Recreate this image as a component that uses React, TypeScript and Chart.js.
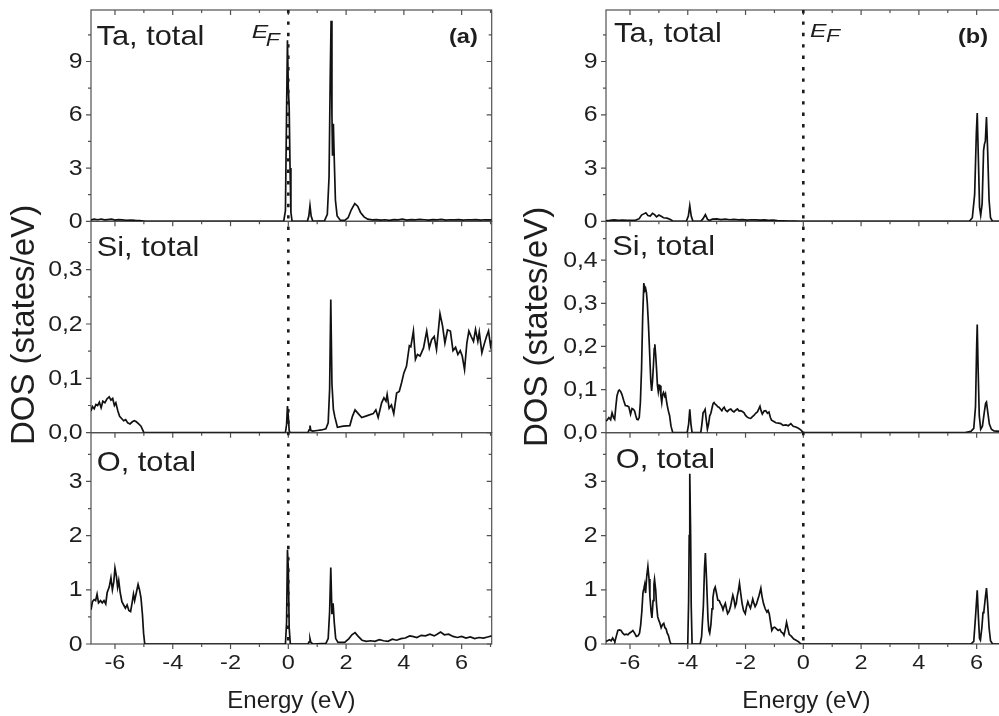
import React, { useEffect, useRef } from "react";
import { Chart, registerables } from "chart.js";

Chart.register(...registerables);

const FONT = "'Liberation Sans', Arial, Helvetica, sans-serif";

// ---- axis settings ----
const X_MIN = -6.83;
const X_MAX = 7.04;
const X_STEP = 2;
const X_TITLE = "Energy (eV)";
const Y_TITLE = "DOS (states/eV)";

const TA_STEP = 3;
const SI_STEP = 0.1;
const O_STEP = 1;

const TA_MAX_A = 11.9;
const SI_MAX_A = 0.389;
const O_MAX_A = 3.9;
const TA_MAX_B = 11.9;
const SI_MAX_B = 0.49;
const O_MAX_B = 3.9;

const PANEL_NAMES = ["Ta, total", "Si, total", "O, total"];
const LETTERS = ["(a)", "(b)"];

// ---- series: [energy (eV), DOS] ----
const TA_A: [number, number][] = [
  [-6.83, 0.08], [-6.72, 0.12], [-6.6, 0.09], [-6.48, 0.13], [-6.36, 0.08], [-6.25, 0.1], [-6.12, 0.12],
  [-6.0, 0.07], [-5.88, 0.1], [-5.75, 0.08], [-5.6, 0.06], [-5.45, 0.07], [-5.3, 0.05], [-5.15, 0.04],
  [-5.02, 0.02], [-4.95, 0], [-0.16, 0], [-0.1, 0.6], [-0.06, 6.2], [-0.03, 10.2], [0.0, 7.5], [0.03, 6.4],
  [0.06, 3.0], [0.09, 0.5], [0.13, 0], [0.66, 0], [0.71, 0.3], [0.75, 0.88], [0.79, 0.3], [0.85, 0],
  [1.25, 0.03], [1.35, 0.4], [1.41, 2.5], [1.45, 8], [1.48, 11.3], [1.51, 6], [1.53, 3.7], [1.56, 5.5],
  [1.59, 3.5], [1.63, 1.2], [1.69, 0.3], [1.8, 0.06], [1.95, 0.05], [2.07, 0.2], [2.18, 0.65], [2.3, 1.0],
  [2.4, 0.85], [2.5, 0.5], [2.62, 0.25], [2.75, 0.12], [2.9, 0.08], [3.05, 0.1], [3.2, 0.07], [3.35, 0.09],
  [3.5, 0.06], [3.65, 0.1], [3.8, 0.08], [3.95, 0.12], [4.1, 0.07], [4.25, 0.1], [4.4, 0.08], [4.55, 0.11],
  [4.7, 0.09], [4.85, 0.07], [5.0, 0.1], [5.15, 0.08], [5.3, 0.11], [5.45, 0.07], [5.6, 0.09], [5.75, 0.08],
  [5.9, 0.1], [6.05, 0.07], [6.2, 0.09], [6.35, 0.08], [6.5, 0.1], [6.65, 0.07], [6.8, 0.09], [6.95, 0.08],
  [7.04, 0.08],
];

const SI_A: [number, number][] = [
  [-6.83, 0.04], [-6.78, 0.048], [-6.72, 0.044], [-6.66, 0.052], [-6.6, 0.05], [-6.54, 0.056], [-6.48, 0.046],
  [-6.42, 0.058], [-6.35, 0.055], [-6.28, 0.062], [-6.2, 0.066], [-6.14, 0.06], [-6.08, 0.063], [-6.02, 0.05],
  [-5.97, 0.055], [-5.9, 0.04], [-5.84, 0.03], [-5.77, 0.026], [-5.7, 0.022], [-5.63, 0.024], [-5.56, 0.018],
  [-5.48, 0.016], [-5.4, 0.02], [-5.33, 0.022], [-5.26, 0.02], [-5.18, 0.016], [-5.1, 0.012], [-5.05, 0.006],
  [-5.0, 0], [-0.1, 0], [-0.06, 0.015], [-0.03, 0.049], [0.0, 0.03], [0.03, 0.004], [0.06, 0], [0.68, 0],
  [0.72, 0.005], [0.75, 0.013], [0.78, 0.004], [0.85, 0.003], [1.0, 0.004], [1.15, 0.005], [1.3, 0.007],
  [1.38, 0.018], [1.43, 0.08], [1.47, 0.245], [1.51, 0.09], [1.56, 0.043], [1.61, 0.029], [1.7, 0.01],
  [1.9, 0.012], [2.13, 0.013], [2.22, 0.03], [2.31, 0.042], [2.42, 0.035], [2.54, 0.028], [2.71, 0.031],
  [2.94, 0.035], [3.03, 0.042], [3.11, 0.028], [3.23, 0.055], [3.31, 0.064], [3.38, 0.058], [3.42, 0.07],
  [3.49, 0.045], [3.57, 0.051], [3.65, 0.035], [3.75, 0.073], [3.84, 0.076], [3.92, 0.092], [4.0, 0.11],
  [4.09, 0.122], [4.19, 0.16], [4.24, 0.158], [4.33, 0.187], [4.4, 0.135], [4.47, 0.144], [4.56, 0.141],
  [4.68, 0.156], [4.79, 0.187], [4.88, 0.156], [4.96, 0.171], [5.05, 0.177], [5.13, 0.153], [5.25, 0.219],
  [5.34, 0.196], [5.42, 0.165], [5.51, 0.189], [5.61, 0.187], [5.7, 0.151], [5.79, 0.157], [5.87, 0.144],
  [5.95, 0.151], [6.02, 0.141], [6.1, 0.116], [6.18, 0.165], [6.25, 0.187], [6.33, 0.177], [6.41, 0.168],
  [6.48, 0.19], [6.56, 0.168], [6.61, 0.185], [6.7, 0.147], [6.78, 0.163], [6.86, 0.177], [6.93, 0.187],
  [7.0, 0.16], [7.04, 0.17],
];

const O_A: [number, number][] = [
  [-6.83, 0.63], [-6.78, 0.78], [-6.72, 0.82], [-6.67, 0.8], [-6.62, 0.92], [-6.57, 0.76], [-6.5, 0.8],
  [-6.44, 0.76], [-6.38, 0.8], [-6.32, 0.74], [-6.27, 0.95], [-6.2, 1.05], [-6.14, 1.22], [-6.09, 1.0],
  [-6.04, 1.15], [-6.0, 1.4], [-5.95, 1.25], [-5.91, 1.05], [-5.87, 1.17], [-5.82, 0.95], [-5.76, 0.78],
  [-5.7, 0.72], [-5.64, 0.66], [-5.58, 0.72], [-5.52, 0.62], [-5.46, 0.6], [-5.41, 0.75], [-5.36, 0.92],
  [-5.32, 0.8], [-5.26, 0.95], [-5.2, 1.1], [-5.15, 1.0], [-5.1, 0.85], [-5.05, 0.55], [-5.01, 0.2],
  [-4.97, 0], [-0.1, 0], [-0.06, 0.4], [-0.03, 1.74], [0.0, 1.4], [0.03, 0.3], [0.07, 0], [0.68, 0],
  [0.72, 0.04], [0.75, 0.1], [0.78, 0.03], [0.85, 0], [1.3, 0.01], [1.38, 0.1], [1.43, 0.6], [1.47, 1.41],
  [1.51, 0.55], [1.55, 0.75], [1.59, 0.4], [1.64, 0.1], [1.72, 0.03], [1.95, 0.03], [2.1, 0.1], [2.2, 0.17],
  [2.31, 0.21], [2.42, 0.14], [2.55, 0.07], [2.7, 0.05], [2.85, 0.06], [3.0, 0.05], [3.15, 0.08], [3.3, 0.06],
  [3.45, 0.05], [3.6, 0.09], [3.75, 0.07], [3.9, 0.1], [4.05, 0.11], [4.2, 0.15], [4.3, 0.14], [4.45, 0.12],
  [4.6, 0.16], [4.75, 0.15], [4.9, 0.18], [5.05, 0.15], [5.15, 0.18], [5.27, 0.22], [5.4, 0.17], [5.55, 0.18],
  [5.7, 0.14], [5.85, 0.12], [6.0, 0.14], [6.15, 0.11], [6.3, 0.13], [6.45, 0.1], [6.6, 0.12], [6.75, 0.11],
  [6.9, 0.13], [7.04, 0.15],
];

const TA_B: [number, number][] = [
  [-6.83, 0.03], [-6.7, 0.05], [-6.55, 0.08], [-6.4, 0.06], [-6.25, 0.07], [-6.1, 0.06], [-5.95, 0.05],
  [-5.8, 0.07], [-5.68, 0.15], [-5.6, 0.35], [-5.52, 0.42], [-5.45, 0.48], [-5.38, 0.33], [-5.3, 0.3],
  [-5.22, 0.45], [-5.15, 0.38], [-5.08, 0.25], [-5.0, 0.35], [-4.92, 0.28], [-4.84, 0.2], [-4.72, 0.18],
  [-4.6, 0.1], [-4.52, 0.02], [-4.45, 0], [-4.05, 0], [-3.98, 0.3], [-3.93, 0.88], [-3.88, 0.3], [-3.82, 0],
  [-3.55, 0], [-3.47, 0.15], [-3.39, 0.38], [-3.32, 0.12], [-3.25, 0.05], [-3.15, 0.12], [-3.0, 0.14],
  [-2.85, 0.1], [-2.7, 0.12], [-2.55, 0.09], [-2.4, 0.11], [-2.25, 0.08], [-2.1, 0.1], [-1.95, 0.07],
  [-1.8, 0.09], [-1.65, 0.08], [-1.5, 0.07], [-1.35, 0.08], [-1.2, 0.06], [-1.05, 0.07], [-0.9, 0.04],
  [-0.7, 0.03], [-0.5, 0.02], [-0.3, 0.01], [-0.1, 0], [5.75, 0], [5.85, 0.2], [5.93, 1.5], [5.99, 5.0],
  [6.02, 6.1], [6.06, 3.5], [6.1, 0.8], [6.14, 0.35], [6.19, 1.0], [6.24, 4.0], [6.27, 4.35], [6.3, 4.5],
  [6.34, 5.87], [6.38, 4.0], [6.43, 1.2], [6.48, 0.2], [6.55, 0], [7.04, 0],
];

const SI_B: [number, number][] = [
  [-6.83, 0.027], [-6.78, 0.03], [-6.73, 0.035], [-6.67, 0.03], [-6.62, 0.046], [-6.57, 0.035], [-6.53, 0.031],
  [-6.49, 0.06], [-6.45, 0.085], [-6.4, 0.097], [-6.37, 0.099], [-6.32, 0.095], [-6.28, 0.089], [-6.22, 0.075],
  [-6.16, 0.063], [-6.1, 0.062], [-6.04, 0.06], [-5.98, 0.043], [-5.93, 0.056], [-5.88, 0.054], [-5.84, 0.05],
  [-5.8, 0.04], [-5.76, 0.031], [-5.72, 0.03], [-5.68, 0.035], [-5.64, 0.07], [-5.6, 0.147], [-5.56, 0.27],
  [-5.52, 0.347], [-5.49, 0.33], [-5.46, 0.335], [-5.43, 0.325], [-5.4, 0.3], [-5.36, 0.25], [-5.32, 0.186],
  [-5.28, 0.12], [-5.25, 0.097], [-5.22, 0.12], [-5.19, 0.154], [-5.16, 0.195], [-5.14, 0.205], [-5.11, 0.18],
  [-5.08, 0.147], [-5.05, 0.11], [-5.02, 0.095], [-4.99, 0.11], [-4.96, 0.109], [-4.93, 0.085], [-4.9, 0.07],
  [-4.87, 0.088], [-4.84, 0.093], [-4.8, 0.085], [-4.77, 0.09], [-4.74, 0.075], [-4.71, 0.063], [-4.67, 0.05],
  [-4.63, 0.04], [-4.58, 0.015], [-4.52, 0], [-4.02, 0], [-3.97, 0.02], [-3.93, 0.054], [-3.89, 0.02],
  [-3.85, 0], [-3.55, 0], [-3.51, 0.02], [-3.47, 0.046], [-3.43, 0.05], [-3.4, 0.054], [-3.36, 0.03],
  [-3.32, 0.008], [-3.28, 0.02], [-3.24, 0.039], [-3.2, 0.045], [-3.15, 0.06], [-3.12, 0.068], [-3.09, 0.07],
  [-3.05, 0.066], [-3.01, 0.064], [-2.96, 0.06], [-2.92, 0.059], [-2.87, 0.055], [-2.82, 0.051], [-2.78, 0.056],
  [-2.74, 0.059], [-2.69, 0.052], [-2.63, 0.049], [-2.57, 0.053], [-2.51, 0.055], [-2.45, 0.05], [-2.4, 0.048],
  [-2.34, 0.052], [-2.28, 0.055], [-2.22, 0.05], [-2.17, 0.051], [-2.11, 0.049], [-2.05, 0.046], [-2.0, 0.04],
  [-1.94, 0.036], [-1.88, 0.034], [-1.82, 0.033], [-1.76, 0.037], [-1.71, 0.04], [-1.65, 0.045], [-1.59, 0.048],
  [-1.54, 0.055], [-1.5, 0.061], [-1.46, 0.05], [-1.42, 0.043], [-1.36, 0.05], [-1.3, 0.051], [-1.24, 0.045],
  [-1.19, 0.048], [-1.14, 0.035], [-1.1, 0.029], [-1.02, 0.026], [-0.95, 0.023], [-0.86, 0.022], [-0.78, 0.021],
  [-0.7, 0.017], [-0.6, 0.018], [-0.52, 0.016], [-0.43, 0.021], [-0.35, 0.015], [-0.26, 0.013], [-0.17, 0.01],
  [-0.08, 0.006], [0, 0], [5.6, 0], [5.8, 0.003], [5.9, 0.01], [5.96, 0.06], [6.0, 0.2], [6.02, 0.251],
  [6.05, 0.15], [6.09, 0.04], [6.14, 0.008], [6.2, 0.015], [6.27, 0.05], [6.31, 0.068], [6.34, 0.071],
  [6.38, 0.05], [6.44, 0.02], [6.51, 0.008], [6.6, 0.004], [6.8, 0.003], [7.04, 0.003],
];

const O_B: [number, number][] = [
  [-6.85, 0.04], [-6.78, 0.06], [-6.71, 0.08], [-6.65, 0.06], [-6.6, 0.11], [-6.55, 0.06], [-6.52, 0.05],
  [-6.47, 0.15], [-6.42, 0.25], [-6.36, 0.26], [-6.31, 0.25], [-6.25, 0.2], [-6.19, 0.17], [-6.13, 0.18],
  [-6.07, 0.17], [-6.02, 0.2], [-5.96, 0.22], [-5.9, 0.25], [-5.84, 0.2], [-5.78, 0.14], [-5.72, 0.15],
  [-5.67, 0.2], [-5.63, 0.35], [-5.59, 0.6], [-5.55, 0.95], [-5.52, 1.02], [-5.49, 1.1], [-5.46, 0.94],
  [-5.42, 1.25], [-5.38, 1.43], [-5.34, 1.2], [-5.31, 0.88], [-5.27, 0.6], [-5.24, 0.48], [-5.2, 0.8],
  [-5.17, 1.1], [-5.15, 1.19], [-5.11, 1.0], [-5.08, 0.72], [-5.04, 0.5], [-5.01, 0.45], [-4.96, 0.38],
  [-4.92, 0.3], [-4.87, 0.36], [-4.83, 0.38], [-4.79, 0.3], [-4.75, 0.28], [-4.71, 0.2], [-4.67, 0.16],
  [-4.62, 0.05], [-4.58, 0], [-4.0, 0], [-3.97, 0.8], [-3.95, 2.0], [-3.93, 3.14], [-3.9, 2.0], [-3.88, 0.7],
  [-3.85, 0], [-3.57, 0], [-3.52, 0.14], [-3.46, 0.7], [-3.42, 1.4], [-3.39, 1.68], [-3.35, 1.2], [-3.3, 0.46],
  [-3.27, 0.25], [-3.24, 0.2], [-3.2, 0.35], [-3.16, 0.65], [-3.13, 0.85], [-3.09, 1.0], [-3.05, 1.05],
  [-3.01, 0.95], [-2.96, 0.81], [-2.91, 0.8], [-2.87, 0.75], [-2.82, 0.7], [-2.78, 0.63], [-2.74, 0.7],
  [-2.7, 0.75], [-2.66, 0.65], [-2.62, 0.56], [-2.57, 0.6], [-2.52, 0.69], [-2.48, 0.8], [-2.44, 0.9],
  [-2.4, 0.82], [-2.36, 0.69], [-2.32, 0.75], [-2.29, 0.87], [-2.25, 0.98], [-2.21, 1.12], [-2.17, 0.95],
  [-2.12, 0.75], [-2.07, 0.62], [-2.01, 0.56], [-1.97, 0.68], [-1.92, 0.78], [-1.88, 0.72], [-1.83, 0.66],
  [-1.79, 0.74], [-1.75, 0.83], [-1.71, 0.75], [-1.67, 0.69], [-1.62, 0.74], [-1.58, 0.81], [-1.53, 0.9],
  [-1.47, 1.03], [-1.43, 0.88], [-1.38, 0.75], [-1.32, 0.65], [-1.26, 0.59], [-1.22, 0.62], [-1.18, 0.56],
  [-1.14, 0.42], [-1.09, 0.25], [-1.04, 0.3], [-0.99, 0.31], [-0.93, 0.28], [-0.87, 0.25], [-0.81, 0.27],
  [-0.76, 0.22], [-0.71, 0.2], [-0.67, 0.16], [-0.62, 0.28], [-0.58, 0.4], [-0.53, 0.28], [-0.49, 0.18],
  [-0.41, 0.14], [-0.33, 0.09], [-0.25, 0.07], [-0.16, 0.04], [-0.08, 0], [5.8, 0], [5.9, 0.05], [5.96, 0.5],
  [6.02, 0.99], [6.06, 0.5], [6.1, 0.1], [6.13, 0.07], [6.18, 0.3], [6.22, 0.58], [6.25, 0.6], [6.3, 0.85],
  [6.34, 1.03], [6.38, 0.75], [6.43, 0.3], [6.48, 0.06], [6.55, 0], [7.04, 0],
];

// ---- layout constants (pixels) ----
const CANVAS_W = 500;
const CANVAS_H = 716;
const AXIS_W = 91;
const X_AXIS_H = 72;
const TEXT_COLOR = "#1e1e1e";

type ColumnCfg = {
  left: number;
  series: [number, number][][];
  maxes: number[];
  letter: string;
  labelPos: { dx: number; base: number }[];
  ef: { dx: number; base: number; fdx: number; fdy: number };
  letterDx: number;
  letterBase: number;
  yTitleX: number;
  yTitleY: number;
};

function fmt(decimals: number) {
  return (v: any) => (decimals ? Number(v).toFixed(decimals).replace(".", ",") : String(Math.round(Number(v))));
}

function yScale(max: number, step: number, decimals: number) {
  return {
    type: "linear",
    position: "left",
    stack: "col",
    stackWeight: 1,
    min: 0,
    max,
    afterFit: (s: any) => {
      s.width = AXIS_W;
    },
    grid: { display: false, drawTicks: false },
    border: { display: false },
    ticks: {
      display: false,
      stepSize: step,
      includeBounds: false,
      autoSkip: false,
      callback: fmt(decimals),
    },
  };
}

function drawText(
  ctx: any,
  text: string,
  x: number,
  y: number,
  font: string,
  sx: number,
  align: string = "left",
  baseline: string = "alphabetic"
) {
  ctx.save();
  ctx.translate(x, y);
  ctx.scale(sx, 1);
  ctx.font = font;
  ctx.textAlign = align;
  ctx.textBaseline = baseline;
  ctx.fillText(text, 0, 0);
  ctx.restore();
}

function tickValues(scale: any) {
  const majors: number[] = scale.ticks.map((t: any) => t.value);
  const minors: number[] = [];
  for (let i = 0; i < majors.length; i++) {
    const step = i + 1 < majors.length ? majors[i + 1] - majors[i] : majors[i] - majors[i - 1];
    if (i === 0) {
      const before = majors[0] - step / 2;
      if (before >= scale.min) minors.push(before);
    }
    const after = majors[i] + step / 2;
    if (after <= scale.max + 1e-9) minors.push(after);
  }
  return { majors, minors };
}

function makePlugin(cfg: ColumnCfg) {
  const ids = ["yTa", "ySi", "yO"];
  return {
    id: "dosFrames",
    beforeDatasetsDraw(chart: any) {
      const ctx = chart.ctx;
      const xs = chart.scales.x;
      const xt = tickValues(xs);
      ctx.save();
      ctx.strokeStyle = "#505050";
      ctx.lineWidth = 1.2;
      ids.forEach((id, idx) => {
        const ys = chart.scales[id];
        ctx.strokeRect(xs.left, ys.top, xs.right - xs.left, ys.bottom - ys.top);
        const yt = tickValues(ys);
        ctx.beginPath();
        xt.majors.forEach((v) => {
          const p = xs.getPixelForValue(v);
          ctx.moveTo(p, ys.top);
          ctx.lineTo(p, ys.top + 5);
        });
        xt.minors.forEach((v) => {
          const p = xs.getPixelForValue(v);
          ctx.moveTo(p, ys.top);
          ctx.lineTo(p, ys.top + 3);
        });
        yt.majors.forEach((v) => {
          const p = ys.getPixelForValue(v);
          ctx.moveTo(xs.left - 5, p);
          ctx.lineTo(xs.left, p);
          ctx.moveTo(xs.right - 5, p);
          ctx.lineTo(xs.right, p);
        });
        yt.minors.forEach((v) => {
          const p = ys.getPixelForValue(v);
          ctx.moveTo(xs.left - 3, p);
          ctx.lineTo(xs.left, p);
          ctx.moveTo(xs.right - 3, p);
          ctx.lineTo(xs.right, p);
        });
        if (idx === ids.length - 1) {
          xt.majors.forEach((v) => {
            const p = xs.getPixelForValue(v);
            ctx.moveTo(p, ys.bottom);
            ctx.lineTo(p, ys.bottom + 5);
          });
          xt.minors.forEach((v) => {
            const p = xs.getPixelForValue(v);
            ctx.moveTo(p, ys.bottom);
            ctx.lineTo(p, ys.bottom + 3);
          });
        }
        ctx.stroke();
      });
      ctx.restore();
    },
    afterDatasetsDraw(chart: any) {
      const ctx = chart.ctx;
      const xs = chart.scales.x;
      const area = chart.chartArea;
      const x0 = xs.getPixelForValue(0);
      // Fermi level dotted line
      ctx.save();
      ctx.strokeStyle = "#1a1a1a";
      ctx.lineWidth = 2.6;
      ctx.setLineDash([3.4, 8]);
      ctx.beginPath();
      ctx.moveTo(x0, area.top);
      ctx.lineTo(x0, area.bottom);
      ctx.stroke();
      ctx.restore();

      ctx.save();
      ctx.fillStyle = TEXT_COLOR;
      // tick labels (generated by the scales, drawn slightly widened like the original)
      ids.forEach((id) => {
        const ys = chart.scales[id];
        ys.ticks.forEach((t: any) => {
          const p = ys.getPixelForValue(t.value);
          drawText(ctx, String(t.label), xs.left - 8.3, p + 0.5, `22px ${FONT}`, 1.13, "right", "middle");
        });
      });
      xs.ticks.forEach((t: any) => {
        const p = xs.getPixelForValue(t.value);
        drawText(ctx, String(t.label), p, area.bottom + 19, `21px ${FONT}`, 1.12, "center", "middle");
      });

      ids.forEach((id, idx) => {
        const ys = chart.scales[id];
        const lp = cfg.labelPos[idx];
        drawText(ctx, PANEL_NAMES[idx], xs.left + lp.dx, ys.top + lp.base, `28px ${FONT}`, 1.1);
      });
      const ef = cfg.ef;
      const ta = chart.scales.yTa;
      drawText(ctx, "E", x0 + ef.dx, ta.top + ef.base, `italic 19px ${FONT}`, 1.3);
      drawText(ctx, "F", x0 + ef.dx + ef.fdx, ta.top + ef.base + ef.fdy, `italic 19px ${FONT}`, 1.2);
      drawText(ctx, cfg.letter, xs.left + cfg.letterDx, ta.top + cfg.letterBase, `bold 21px ${FONT}`, 1.12);

      // y axis title
      ctx.translate(cfg.yTitleX, cfg.yTitleY);
      ctx.rotate(-Math.PI / 2);
      ctx.font = `33px ${FONT}`;
      ctx.textAlign = "center";
      ctx.textBaseline = "middle";
      ctx.fillText(Y_TITLE, 0, 0);
      ctx.restore();
    },
  };
}

function DosColumn({ cfg }: { cfg: ColumnCfg }) {
  const ref = useRef<HTMLCanvasElement | null>(null);
  useEffect(() => {
    if (!ref.current) return;
    const [ta, si, o] = cfg.series;
    const line = (data: [number, number][], axis: string) => ({
      data: data.map(([x, y]) => ({ x, y })),
      yAxisID: axis,
      borderColor: "#111",
      borderWidth: 1.7,
      pointRadius: 0,
      tension: 0,
      fill: false,
    });
    const chart = new Chart(ref.current, {
      type: "line",
      data: { datasets: [line(ta, "yTa"), line(si, "ySi"), line(o, "yO")] },
      options: {
        animation: false,
        responsive: false,
        maintainAspectRatio: false,
        events: [],
        layout: { padding: { left: 0, right: CANVAS_W - 491.7, top: 10, bottom: 0 } },
        plugins: { legend: { display: false }, tooltip: { enabled: false } },
        scales: {
          x: {
            type: "linear",
            position: "bottom",
            min: X_MIN,
            max: X_MAX,
            afterFit: (s: any) => {
              s.height = X_AXIS_H;
            },
            grid: { display: false, drawTicks: false },
            border: { display: false },
            ticks: {
              display: false,
              stepSize: X_STEP,
              includeBounds: false,
              autoSkip: false,
              maxRotation: 0,
            },
            title: {
              display: true,
              text: X_TITLE,
              color: TEXT_COLOR,
              font: { family: FONT, size: 24 },
              padding: { top: 0, bottom: 0 },
            },
          },
          yO: yScale(cfg.maxes[2], O_STEP, 0),
          ySi: yScale(cfg.maxes[1], SI_STEP, 1),
          yTa: yScale(cfg.maxes[0], TA_STEP, 0),
        } as any,
      },
      plugins: [makePlugin(cfg)],
    } as any);
    return () => chart.destroy();
  }, [cfg]);
  return (
    <canvas
      ref={ref}
      width={CANVAS_W}
      height={CANVAS_H}
      style={{ position: "absolute", left: cfg.left, top: 0, width: CANVAS_W, height: CANVAS_H }}
    />
  );
}

const COL_A: ColumnCfg = {
  left: 0,
  series: [TA_A, SI_A, O_A],
  maxes: [TA_MAX_A, SI_MAX_A, O_MAX_A],
  letter: LETTERS[0],
  labelPos: [
    { dx: 5.5, base: 35 },
    { dx: 5.7, base: 35 },
    { dx: 5.7, base: 38 },
  ],
  ef: { dx: -36.6, base: 28.3, fdx: 14, fdy: 8 },
  letterDx: 358,
  letterBase: 32.5,
  yTitleX: 25,
  yTitleY: 325,
};

const COL_B: ColumnCfg = {
  left: 515,
  series: [TA_B, SI_B, O_B],
  maxes: [TA_MAX_B, SI_MAX_B, O_MAX_B],
  letter: LETTERS[1],
  labelPos: [
    { dx: 8, base: 31.7 },
    { dx: 6.3, base: 33.3 },
    { dx: 9.7, base: 35 },
  ],
  ef: { dx: 6.7, base: 26.7, fdx: 16, fdy: 5 },
  letterDx: 352,
  letterBase: 33,
  yTitleX: 23,
  yTitleY: 327,
};

export default function App() {
  return (
    <div
      style={{
        position: "fixed",
        left: 0,
        top: 0,
        width: 999,
        height: 716,
        overflow: "hidden",
        background: "#fff",
      }}
    >
      <DosColumn cfg={COL_A} />
      <DosColumn cfg={COL_B} />
    </div>
  );
}
